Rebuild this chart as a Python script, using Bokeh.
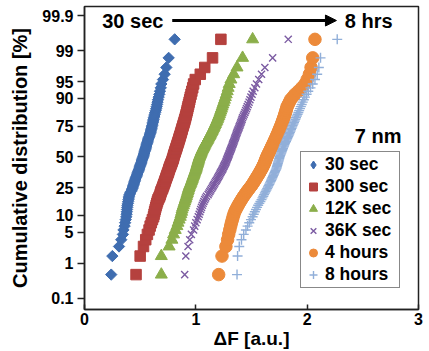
import math
from statistics import NormalDist
from bokeh.plotting import figure
from bokeh.models import (FixedTicker, Legend, LegendItem, Arrow, NormalHead, Label,
                          Range1d, ColumnDataSource)
from bokeh.embed import file_html
from bokeh.resources import INLINE

# ---------------- data (ΔF values, sorted) ----------------
series_names = ["30 sec", "300 sec", "12K sec", "36K sec", "4 hours", "8 hours"]

dF_30sec = [0.24, 0.25, 0.31, 0.33, 0.345, 0.35, 0.36, 0.365, 0.37, 0.375,
            0.378, 0.38, 0.382, 0.384, 0.386, 0.39, 0.392, 0.395, 0.398, 0.40,
            0.405, 0.41, 0.418, 0.425, 0.43, 0.434, 0.438, 0.442, 0.446, 0.45,
            0.453, 0.457, 0.462, 0.466, 0.47, 0.474, 0.478, 0.482, 0.486, 0.49,
            0.494, 0.497, 0.50, 0.504, 0.508, 0.511, 0.514, 0.517, 0.521, 0.525,
            0.528, 0.531, 0.534, 0.537, 0.54, 0.543, 0.546, 0.549, 0.552, 0.555,
            0.558, 0.561, 0.564, 0.567, 0.57, 0.574, 0.578, 0.582, 0.586, 0.59,
            0.593, 0.596, 0.599, 0.602, 0.605, 0.608, 0.611, 0.614, 0.617, 0.62,
            0.623, 0.627, 0.631, 0.635, 0.64, 0.644, 0.648, 0.652, 0.656, 0.66,
            0.666, 0.672, 0.678, 0.685, 0.69, 0.705, 0.72, 0.735, 0.756, 0.81]

dF_300sec = [0.463, 0.50, 0.53, 0.55, 0.565, 0.58, 0.59, 0.60, 0.61, 0.62,
             0.625, 0.63, 0.635, 0.64, 0.645, 0.65, 0.655, 0.66, 0.668, 0.675,
             0.68, 0.684, 0.688, 0.694, 0.70, 0.704, 0.709, 0.713, 0.718, 0.722,
             0.726, 0.73, 0.734, 0.738, 0.742, 0.746, 0.75, 0.754, 0.757, 0.76,
             0.764, 0.768, 0.772, 0.776, 0.78, 0.784, 0.788, 0.791, 0.795, 0.798,
             0.80, 0.803, 0.806, 0.81, 0.813, 0.816, 0.82, 0.823, 0.827, 0.83,
             0.833, 0.837, 0.84, 0.844, 0.847, 0.85, 0.854, 0.857, 0.861, 0.864,
             0.868, 0.871, 0.875, 0.878, 0.882, 0.886, 0.89, 0.894, 0.898, 0.902,
             0.906, 0.91, 0.914, 0.918, 0.922, 0.926, 0.93, 0.935, 0.94, 0.945,
             0.95, 0.957, 0.964, 0.972, 0.98, 0.995, 1.04, 1.08, 1.15, 1.225]

dF_12Ksec = [0.69, 0.69, 0.76, 0.785, 0.80, 0.815, 0.83, 0.84, 0.85, 0.86,
             0.866, 0.872, 0.876, 0.882, 0.888, 0.894, 0.90, 0.905, 0.91, 0.915,
             0.92, 0.924, 0.928, 0.932, 0.936, 0.94, 0.945, 0.95, 0.955, 0.96,
             0.964, 0.968, 0.972, 0.976, 0.98, 0.984, 0.988, 0.992, 0.996, 1.00,
             1.003, 1.006, 1.009, 1.012, 1.015, 1.018, 1.021, 1.024, 1.027, 1.03,
             1.034, 1.038, 1.042, 1.046, 1.05, 1.055, 1.06, 1.065, 1.07, 1.075,
             1.08, 1.086, 1.092, 1.098, 1.104, 1.11, 1.116, 1.122, 1.128, 1.134,
             1.14, 1.146, 1.152, 1.158, 1.164, 1.17, 1.176, 1.182, 1.188, 1.194,
             1.20, 1.206, 1.212, 1.218, 1.224, 1.23, 1.236, 1.243, 1.25, 1.257,
             1.265, 1.273, 1.282, 1.29, 1.30, 1.315, 1.34, 1.37, 1.42, 1.51]

dF_36Ksec = [0.90, 0.91, 0.93, 0.945, 0.96, 0.98, 0.99, 1.00, 1.012, 1.022,
             1.03, 1.037, 1.044, 1.051, 1.058, 1.065, 1.072, 1.08, 1.088, 1.096,
             1.11, 1.118, 1.126, 1.134, 1.142, 1.15, 1.157, 1.164, 1.171, 1.178,
             1.185, 1.192, 1.198, 1.204, 1.21, 1.216, 1.222, 1.228, 1.234, 1.24,
             1.245, 1.25, 1.255, 1.26, 1.265, 1.27, 1.274, 1.278, 1.282, 1.286,
             1.29, 1.294, 1.298, 1.302, 1.306, 1.31, 1.314, 1.318, 1.322, 1.326,
             1.33, 1.334, 1.338, 1.342, 1.346, 1.35, 1.354, 1.358, 1.362, 1.366,
             1.37, 1.375, 1.38, 1.385, 1.39, 1.395, 1.40, 1.405, 1.41, 1.415,
             1.42, 1.427, 1.434, 1.441, 1.448, 1.455, 1.462, 1.47, 1.478, 1.486,
             1.495, 1.505, 1.515, 1.53, 1.545, 1.565, 1.59, 1.62, 1.69, 1.83]

dF_4hours = [1.205, 1.235, 1.27, 1.285, 1.295, 1.305, 1.313, 1.32, 1.328, 1.335,
             1.342, 1.35, 1.36, 1.37, 1.38, 1.39, 1.40, 1.41, 1.42, 1.43,
             1.44, 1.45, 1.46, 1.47, 1.48, 1.49, 1.50, 1.508, 1.516, 1.524,
             1.531, 1.538, 1.545, 1.552, 1.559, 1.566, 1.572, 1.578, 1.584, 1.59,
             1.596, 1.601, 1.606, 1.611, 1.616, 1.62, 1.624, 1.628, 1.632, 1.636,
             1.64, 1.645, 1.65, 1.655, 1.66, 1.665, 1.67, 1.675, 1.68, 1.685,
             1.69, 1.695, 1.70, 1.705, 1.71, 1.715, 1.72, 1.725, 1.73, 1.735,
             1.74, 1.745, 1.75, 1.755, 1.76, 1.765, 1.77, 1.775, 1.78, 1.785,
             1.79, 1.795, 1.80, 1.805, 1.81, 1.815, 1.82, 1.83, 1.84, 1.85,
             1.87, 1.89, 1.92, 1.95, 1.98, 2.00, 2.02, 2.035, 2.05, 2.07]

dF_8hours = [1.37, 1.375, 1.39, 1.41, 1.43, 1.45, 1.465, 1.48, 1.495, 1.51,
             1.52, 1.53, 1.54, 1.55, 1.56, 1.57, 1.58, 1.59, 1.598, 1.606,
             1.613, 1.62, 1.627, 1.634, 1.641, 1.648, 1.654, 1.66, 1.666, 1.672,
             1.677, 1.682, 1.687, 1.692, 1.697, 1.702, 1.707, 1.712, 1.717, 1.722,
             1.725, 1.728, 1.731, 1.734, 1.737, 1.74, 1.743, 1.746, 1.749, 1.752,
             1.755, 1.759, 1.763, 1.767, 1.771, 1.775, 1.779, 1.783, 1.787, 1.791,
             1.795, 1.80, 1.805, 1.81, 1.815, 1.82, 1.825, 1.83, 1.835, 1.84,
             1.845, 1.85, 1.855, 1.86, 1.865, 1.87, 1.876, 1.882, 1.888, 1.894,
             1.90, 1.907, 1.914, 1.921, 1.928, 1.935, 1.943, 1.951, 1.96, 1.97,
             1.98, 1.995, 2.01, 2.03, 2.05, 2.07, 2.09, 2.105, 2.12, 2.27]

y_tick_percent = [0.1, 1, 5, 10, 25, 50, 75, 90, 95, 99, 99.9]
y_tick_labels = ["0.1", "1", "5", "10", "25", "50", "75", "90", "95", "99", "99.9"]
x_ticks = [0, 1, 2, 3]

# ---------------- styling ----------------
FONT = "Liberation Sans"
colors = ["#3F6DB0", "#B5413E", "#8BAE4A", "#7B5BA2", "#EC8A3A", "#91AFD9"]
markers = ["square", "square", "triangle", "x", "circle", "cross"]
legend_markers = ["diamond", "square", "triangle", "x", "circle", "cross"]
angles = [math.pi / 4, 0, 0, 0, 0, 0]
sizes = [8, 10.5, 12, 10, 12.5, 10]
filled = [True, True, True, False, True, False]

nd = NormalDist()


def probit(pct):
    return round(nd.inv_cdf(pct / 100.0), 6)


p = figure(width=429, height=351, output_backend="svg", toolbar_location=None,
           x_range=Range1d(0, 3), y_range=Range1d(-3.34, 3.295),
           min_border_left=84, min_border_right=11, min_border_top=6,
           min_border_bottom=42)
p.background_fill_color = "white"
p.border_fill_color = "white"
p.xgrid.visible = False
p.ygrid.visible = False
p.outline_line_color = "#222222"
p.outline_line_width = 1.5

# axes
ticks_z = [probit(v) for v in y_tick_percent]
p.yaxis.ticker = FixedTicker(ticks=ticks_z)
p.yaxis.major_label_overrides = {z: lab for z, lab in zip(ticks_z, y_tick_labels)}
p.xaxis.ticker = FixedTicker(ticks=x_ticks)
for ax in (p.xaxis[0], p.yaxis[0]):
    ax.axis_line_color = "#222222"
    ax.axis_line_width = 1.5
    ax.major_tick_line_color = "#222222"
    ax.major_tick_line_width = 1.5
    ax.minor_tick_line_color = None
    ax.major_label_text_font = FONT
    ax.major_label_text_font_style = "bold"
    ax.major_label_text_font_size = "16px"
    ax.major_label_text_color = "black"
    ax.axis_label_text_font = FONT
    ax.axis_label_text_font_style = "bold"
    ax.axis_label_text_color = "black"

p.yaxis.major_tick_out = 7
p.yaxis.major_tick_in = 0
p.yaxis.major_label_standoff = 4
p.yaxis.axis_label = "Cumulative distribution [%]"
p.yaxis.axis_label_text_font_size = "20px"
p.yaxis.axis_label_standoff = 8

p.xaxis.major_tick_out = 0
p.xaxis.major_tick_in = 5
p.xaxis.major_label_standoff = 3
p.xaxis.axis_label = "ΔF [a.u.]"
p.xaxis.axis_label_text_font_size = "19px"
p.xaxis.axis_label_standoff = 0

# data
all_series = [dF_30sec, dF_300sec, dF_12Ksec, dF_36Ksec, dF_4hours, dF_8hours]
items = []
for name, vals, col, mk, lmk, ang, sz, fl in zip(series_names, all_series, colors, markers,
                                                 legend_markers, angles, sizes, filled):
    n = len(vals)
    zpos = [nd.inv_cdf((i + 0.5) / n) for i in range(n)]  # rank plotting positions
    src = ColumnDataSource(dict(x=vals, y=zpos))
    style = dict(fill_color=col if fl else None, line_color=col,
                 line_width=1 if fl else 1.4)
    r = p.scatter("x", "y", source=src, marker=mk, size=sz, angle=ang, **style)
    if lmk != mk:
        # legend swatch for the rotated-square (diamond) series; its one point lies
        # outside the x range so it is not visible in the plot area
        r = p.scatter(x=[-1.0], y=[0.0], marker=lmk, size=sz, **style)
    items.append(LegendItem(label=name, renderers=[r]))

legend = Legend(items=items, location=(216, 21))
legend.border_line_color = "#111111"
legend.border_line_width = 1.5
legend.background_fill_color = "white"
legend.background_fill_alpha = 1
legend.label_text_font = FONT
legend.label_text_font_style = "bold"
legend.label_text_font_size = "17.5px"
legend.label_text_color = "black"
legend.glyph_width = 20
legend.glyph_height = 21
legend.label_height = 21
legend.label_width = 72
legend.label_standoff = 2
legend.spacing = 1
legend.padding = 2
legend.margin = 0
p.add_layout(legend)

# annotations
ann_y = 2.988
p.add_layout(Label(x=0.159, y=ann_y, text="30 sec", text_font=FONT, text_font_style="bold",
                   text_font_size="20px", text_baseline="middle", text_align="left",
                   text_color="black"))
p.add_layout(Label(x=2.338, y=ann_y, text="8 hrs", text_font=FONT, text_font_style="bold",
                   text_font_size="20px", text_baseline="middle", text_align="left",
                   text_color="black"))
p.add_layout(Label(x=2.428, y=0.47, text="7 nm", text_font=FONT, text_font_style="bold",
                   text_font_size="20px", text_baseline="middle", text_align="left",
                   text_color="black"))
p.add_layout(Arrow(x_start=0.788, y_start=ann_y, x_end=2.263, y_end=ann_y,
                   line_width=3, line_color="black",
                   end=NormalHead(size=11, fill_color="black", line_color="black")))

open("out.html", "w").write(file_html(p, INLINE))
